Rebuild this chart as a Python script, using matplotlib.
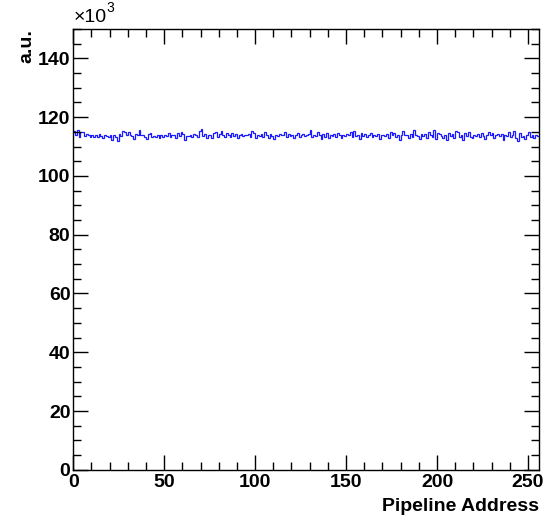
import matplotlib
matplotlib.use("Agg")
import matplotlib.pyplot as plt
from matplotlib.ticker import MultipleLocator
import numpy as np

plt.rcParams['font.family'] = ['Liberation Sans', 'DejaVu Sans']
plt.rcParams['font.weight'] = 'bold'

# pipeline address bins (0..256) and counts in units of 10^3
edges = np.arange(0, 257)
counts = [
    115.2, 114.0, 115.5, 113.2, 115.0, 114.8, 113.6, 114.3, 114.1, 113.2, 113.8, 113.4, 113.9, 113.1, 114.2, 113.5,
    113.0, 114.0, 113.6, 113.3, 113.9, 112.4, 114.0, 113.2, 112.0, 114.3, 113.5, 115.3, 114.8, 113.8, 115.1, 113.9,
    113.7, 112.5, 114.4, 113.8, 115.6, 113.9, 114.0, 113.2, 112.6, 114.3, 114.7, 113.3, 113.7, 113.1, 114.0, 112.9,
    114.1, 113.4, 113.9, 113.6, 114.5, 113.2, 113.8, 113.9, 112.8, 114.6, 113.7, 115.0, 114.2, 112.3, 113.6, 113.5,
    114.0, 113.4, 114.4, 113.9, 113.3, 115.4, 115.9, 113.6, 114.4, 113.0, 114.1, 113.8, 112.9, 114.5, 115.1, 113.3,
    114.3, 115.2, 114.0, 113.4, 114.6, 113.9, 113.1, 114.7, 113.6, 114.2, 112.8, 114.0, 114.3, 113.6, 113.9, 114.1,
    114.4, 113.2, 115.3, 114.5, 112.9, 114.1, 113.7, 114.3, 113.4, 114.9, 113.8, 113.0, 114.2, 113.5, 112.7, 114.0,
    113.6, 114.4, 113.9, 114.1, 115.0, 113.3, 114.3, 113.7, 114.0, 112.9, 113.8, 114.5, 113.2, 113.9, 114.2, 113.6,
    113.8, 114.3, 115.5, 113.1, 114.1, 113.6, 114.8, 113.9, 112.5, 114.2, 113.4, 114.6, 113.0, 114.0, 113.7, 114.4,
    113.2, 114.7, 113.9, 112.8, 114.1, 113.5, 114.3, 113.8, 114.9, 113.4, 115.2, 113.6, 114.0, 112.6, 114.5, 113.7,
    114.2, 113.3, 113.9, 114.6, 113.1, 114.0, 113.7, 114.4, 112.7, 113.8, 114.1, 113.5, 114.3, 113.0, 114.8, 113.9,
    114.6, 113.4, 114.0, 112.3, 113.8, 115.4, 113.9, 114.1, 112.8, 114.3, 113.2, 115.6, 114.0, 113.5, 112.6, 114.2,
    113.7, 114.4, 112.9, 115.0, 114.1, 113.3, 115.6, 112.5, 114.6, 114.3, 113.6, 113.0, 114.0, 112.2, 114.7, 113.5,
    114.2, 112.9, 115.3, 114.8, 113.2, 114.0, 112.4, 114.5, 113.7, 115.0, 113.4, 112.8, 114.1, 113.6, 114.3, 113.1,
    114.5, 113.7, 112.6, 114.0, 115.1, 113.9, 114.6, 112.9, 113.8, 114.2, 113.5, 114.4, 112.3, 114.0, 113.7, 115.0,
    113.4, 114.1, 115.2, 113.0, 111.8, 114.6, 113.3, 113.6, 112.5, 113.8, 114.9, 113.2, 114.0, 112.9, 113.9, 113.5,
]

fig = plt.figure(figsize=(5.46, 5.18), dpi=100)
ax = fig.add_axes([0.134, 0.093, 0.853, 0.851])

ax.stairs(counts, edges, baseline=None, color='#1a1aff', linewidth=0.9)

ax.set_xlim(0, 256)
ax.set_ylim(0, 150)
ax.xaxis.set_major_locator(MultipleLocator(50))
ax.xaxis.set_minor_locator(MultipleLocator(10))
ax.yaxis.set_major_locator(MultipleLocator(20))
ax.yaxis.set_minor_locator(MultipleLocator(5))

# ROOT-like inward ticks on all four sides
ax.tick_params(which='both', direction='in', top=True, right=True, labelsize=14)
ax.tick_params(which='major', length=10.5, width=1)
ax.tick_params(which='minor', length=5.5, width=1)
ax.tick_params(axis='x', pad=3)
ax.tick_params(axis='y', pad=2)
for lbl in ax.get_xticklabels() + ax.get_yticklabels():
    lbl.set_fontweight('bold')
for sp in ax.spines.values():
    sp.set_linewidth(1)

ax.set_xlabel('Pipeline Address', fontsize=14, fontweight='bold', loc='right', labelpad=5)
ax.set_ylabel('a.u.', fontsize=14, fontweight='bold', loc='top', labelpad=2)

# exponent marker above the y axis
ax.text(0.0, 1.006, '×10', transform=ax.transAxes, fontsize=14,
        fontweight='normal', ha='left', va='bottom')
ax.text(0.071, 1.032, '3', transform=ax.transAxes, fontsize=10,
        fontweight='normal', ha='left', va='bottom')

fig.savefig('out.png', dpi=100)
